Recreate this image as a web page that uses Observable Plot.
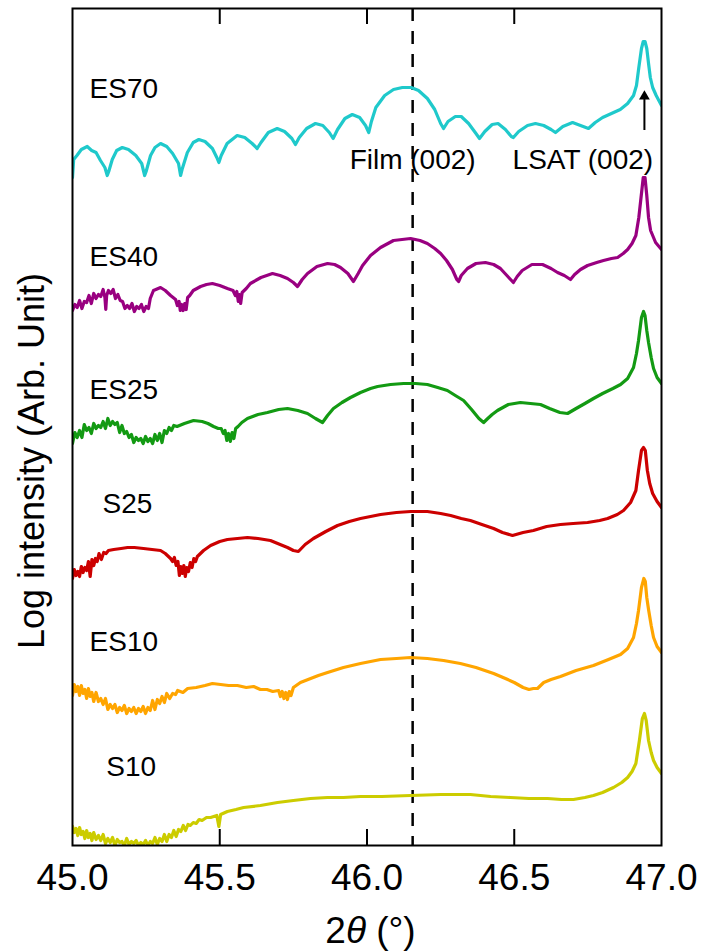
<!DOCTYPE html>
<html>
<head>
<meta charset="utf-8">
<script src="https://cdn.jsdelivr.net/npm/d3@7"></script>
<script src="https://cdn.jsdelivr.net/npm/@observablehq/plot@0.6"></script>
<style>
  html, body { margin: 0; padding: 0; background: #fff; }
  #chart { width: 701px; height: 952px; }
</style>
</head>
<body>
<div id="chart"></div>
<script>
// XRD 2θ scans around the (002) reflections, log intensity, curves offset vertically.
const xTicks = [45.0, 45.5, 46.0, 46.5, 47.0];
const sampleNames  = ["ES70", "ES40", "ES25", "S25", "ES10", "S10"];
const sampleColors = ["#1fc9cb", "#990080", "#139a13", "#cc0000", "#ffa500", "#cccc00"];

// label anchor per sample (2θ, log intensity at text baseline)
const labelX = [45.058, 45.058, 45.058, 45.102, 45.058, 45.115];
const labelY = [7.48, 5.80, 4.47, 3.33, 1.95, 0.70];

const filmPeak = 46.155;      // Film (002)
const substratePeak = 46.942; // LSAT (002)

// [2θ (°), log intensity (arb., offset)]
const es70 = [[45.000,6.68],[45.004,6.86],[45.015,6.90],[45.030,6.96],[45.050,6.99],[45.065,6.95],[45.080,6.93],[45.095,6.85],[45.110,6.78],[45.118,6.70],[45.123,6.74],[45.135,6.86],[45.150,6.95],[45.169,6.98],[45.190,6.96],[45.215,6.90],[45.235,6.82],[45.245,6.70],[45.250,6.74],[45.265,6.90],[45.280,6.98],[45.299,7.02],[45.320,6.99],[45.340,6.92],[45.360,6.82],[45.367,6.70],[45.372,6.76],[45.390,6.93],[45.410,7.03],[45.429,7.06],[45.450,7.04],[45.475,6.97],[45.490,6.88],[45.497,6.83],[45.505,6.90],[45.525,7.02],[45.559,7.10],[45.585,7.08],[45.610,7.02],[45.627,6.97],[45.640,7.03],[45.665,7.13],[45.695,7.17],[45.720,7.14],[45.745,7.07],[45.757,7.01],[45.770,7.08],[45.795,7.17],[45.825,7.22],[45.850,7.20],[45.872,7.13],[45.885,7.07],[45.900,7.16],[45.925,7.27],[45.950,7.31],[45.975,7.28],[45.995,7.20],[46.006,7.13],[46.015,7.24],[46.030,7.38],[46.060,7.50],[46.090,7.56],[46.120,7.58],[46.150,7.58],[46.175,7.55],[46.205,7.47],[46.230,7.36],[46.250,7.22],[46.260,7.17],[46.275,7.24],[46.300,7.29],[46.320,7.29],[46.345,7.22],[46.370,7.12],[46.382,7.07],[46.400,7.14],[46.425,7.21],[46.445,7.22],[46.470,7.16],[46.490,7.09],[46.497,7.08],[46.515,7.14],[46.545,7.20],[46.572,7.22],[46.600,7.20],[46.625,7.16],[46.640,7.13],[46.665,7.19],[46.698,7.23],[46.725,7.20],[46.752,7.17],[46.775,7.23],[46.800,7.28],[46.830,7.32],[46.860,7.36],[46.885,7.42],[46.905,7.50],[46.915,7.60],[46.923,7.78],[46.932,7.97],[46.938,8.04],[46.944,8.04],[46.950,7.97],[46.956,7.82],[46.962,7.68],[46.970,7.58],[46.982,7.50],[47.000,7.40]];

const es40 = [[45.000,5.35],[45.008,5.41],[45.016,5.38],[45.024,5.45],[45.032,5.37],[45.040,5.44],[45.048,5.43],[45.056,5.50],[45.064,5.42],[45.072,5.52],[45.080,5.47],[45.088,5.51],[45.096,5.49],[45.104,5.56],[45.110,5.48],[45.113,5.36],[45.116,5.50],[45.122,5.55],[45.130,5.52],[45.138,5.56],[45.146,5.47],[45.154,5.51],[45.162,5.45],[45.170,5.44],[45.178,5.37],[45.186,5.40],[45.194,5.37],[45.202,5.42],[45.210,5.34],[45.218,5.39],[45.226,5.37],[45.234,5.41],[45.242,5.34],[45.250,5.39],[45.258,5.37],[45.264,5.47],[45.275,5.55],[45.299,5.58],[45.315,5.55],[45.333,5.50],[45.350,5.46],[45.356,5.40],[45.362,5.44],[45.366,5.35],[45.371,5.41],[45.376,5.35],[45.381,5.42],[45.386,5.36],[45.391,5.48],[45.398,5.50],[45.410,5.55],[45.435,5.59],[45.455,5.61],[45.475,5.62],[45.500,5.60],[45.526,5.57],[45.545,5.55],[45.553,5.50],[45.558,5.54],[45.563,5.44],[45.567,5.51],[45.571,5.42],[45.576,5.53],[45.590,5.57],[45.604,5.62],[45.640,5.68],[45.679,5.72],[45.705,5.70],[45.730,5.67],[45.750,5.63],[45.764,5.59],[45.780,5.66],[45.798,5.72],[45.830,5.79],[45.866,5.82],[45.890,5.81],[45.910,5.78],[45.935,5.72],[45.954,5.64],[45.970,5.72],[45.985,5.80],[46.012,5.90],[46.046,5.98],[46.090,6.05],[46.148,6.07],[46.180,6.05],[46.205,6.02],[46.230,5.97],[46.250,5.92],[46.270,5.85],[46.290,5.76],[46.305,5.66],[46.311,5.64],[46.320,5.70],[46.341,5.77],[46.370,5.82],[46.402,5.83],[46.430,5.81],[46.453,5.77],[46.475,5.70],[46.497,5.63],[46.510,5.69],[46.527,5.75],[46.560,5.81],[46.596,5.81],[46.625,5.77],[46.647,5.73],[46.670,5.70],[46.691,5.66],[46.705,5.71],[46.725,5.76],[46.749,5.80],[46.780,5.83],[46.803,5.85],[46.830,5.87],[46.851,5.88],[46.870,5.92],[46.885,5.96],[46.900,6.02],[46.913,6.10],[46.923,6.28],[46.932,6.52],[46.938,6.68],[46.944,6.68],[46.950,6.50],[46.956,6.28],[46.963,6.15],[46.980,6.03],[47.000,5.96]];

const es25 = [[45.000,4.02],[45.008,4.13],[45.016,4.08],[45.024,4.15],[45.032,4.08],[45.040,4.21],[45.048,4.15],[45.056,4.18],[45.064,4.12],[45.072,4.22],[45.080,4.17],[45.088,4.20],[45.096,4.18],[45.104,4.24],[45.112,4.17],[45.120,4.27],[45.128,4.20],[45.136,4.24],[45.144,4.21],[45.152,4.23],[45.160,4.13],[45.168,4.20],[45.176,4.12],[45.184,4.14],[45.192,4.08],[45.200,4.11],[45.208,4.03],[45.216,4.08],[45.224,4.05],[45.232,4.07],[45.240,4.02],[45.248,4.09],[45.256,4.04],[45.264,4.07],[45.272,4.02],[45.280,4.11],[45.288,4.05],[45.296,4.12],[45.304,4.03],[45.312,4.15],[45.320,4.12],[45.328,4.18],[45.336,4.15],[45.344,4.20],[45.355,4.19],[45.380,4.22],[45.411,4.25],[45.440,4.24],[45.460,4.22],[45.479,4.19],[45.495,4.17],[45.505,4.17],[45.512,4.12],[45.518,4.15],[45.524,4.05],[45.530,4.12],[45.536,4.04],[45.542,4.13],[45.548,4.07],[45.554,4.17],[45.562,4.19],[45.575,4.23],[45.594,4.27],[45.630,4.31],[45.662,4.33],[45.700,4.36],[45.730,4.37],[45.765,4.35],[45.798,4.32],[45.825,4.27],[45.849,4.23],[45.866,4.30],[45.886,4.37],[45.915,4.43],[45.944,4.48],[45.978,4.53],[46.012,4.57],[46.036,4.59],[46.080,4.61],[46.124,4.62],[46.165,4.62],[46.205,4.61],[46.240,4.58],[46.273,4.55],[46.300,4.50],[46.328,4.45],[46.355,4.36],[46.380,4.27],[46.396,4.23],[46.410,4.27],[46.425,4.31],[46.443,4.35],[46.480,4.41],[46.521,4.43],[46.555,4.42],[46.589,4.41],[46.620,4.37],[46.655,4.33],[46.681,4.32],[46.710,4.37],[46.740,4.42],[46.769,4.47],[46.800,4.52],[46.835,4.57],[46.861,4.61],[46.885,4.67],[46.905,4.78],[46.915,4.92],[46.922,5.05],[46.932,5.28],[46.939,5.34],[46.944,5.30],[46.950,5.15],[46.956,5.03],[46.965,4.88],[46.973,4.77],[46.985,4.68],[47.000,4.62]];

const s25 = [[45.000,2.67],[45.006,2.76],[45.012,2.70],[45.018,2.74],[45.024,2.69],[45.030,2.79],[45.036,2.73],[45.042,2.78],[45.048,2.75],[45.054,2.84],[45.060,2.69],[45.066,2.86],[45.072,2.80],[45.078,2.87],[45.084,2.84],[45.090,2.92],[45.098,2.86],[45.106,2.93],[45.114,2.92],[45.122,2.95],[45.140,2.96],[45.165,2.97],[45.187,2.98],[45.210,2.98],[45.241,2.97],[45.270,2.96],[45.299,2.95],[45.315,2.92],[45.333,2.87],[45.340,2.84],[45.346,2.88],[45.352,2.80],[45.358,2.84],[45.363,2.70],[45.368,2.79],[45.373,2.72],[45.378,2.80],[45.383,2.69],[45.388,2.78],[45.394,2.74],[45.400,2.83],[45.406,2.78],[45.412,2.87],[45.418,2.84],[45.424,2.89],[45.445,2.95],[45.469,3.00],[45.500,3.04],[45.526,3.06],[45.560,3.07],[45.594,3.08],[45.630,3.07],[45.672,3.05],[45.705,3.01],[45.730,2.98],[45.750,2.95],[45.767,2.94],[45.790,3.01],[45.818,3.07],[45.860,3.14],[45.900,3.20],[45.940,3.24],[45.978,3.27],[46.046,3.31],[46.100,3.33],[46.148,3.34],[46.205,3.34],[46.250,3.32],[46.284,3.30],[46.320,3.27],[46.351,3.25],[46.390,3.21],[46.430,3.17],[46.460,3.13],[46.494,3.10],[46.530,3.13],[46.565,3.15],[46.610,3.19],[46.657,3.21],[46.700,3.22],[46.749,3.23],[46.790,3.25],[46.817,3.27],[46.850,3.31],[46.871,3.35],[46.895,3.43],[46.913,3.55],[46.922,3.75],[46.932,3.95],[46.939,3.98],[46.945,3.95],[46.952,3.75],[46.960,3.62],[46.970,3.52],[46.985,3.44],[47.000,3.38]];

const es10 = [[45.000,1.50],[45.006,1.61],[45.012,1.54],[45.018,1.59],[45.024,1.50],[45.030,1.60],[45.036,1.52],[45.042,1.56],[45.048,1.47],[45.054,1.57],[45.060,1.49],[45.066,1.53],[45.072,1.44],[45.080,1.53],[45.088,1.44],[45.096,1.47],[45.104,1.41],[45.112,1.47],[45.120,1.36],[45.128,1.41],[45.136,1.37],[45.144,1.41],[45.152,1.33],[45.160,1.38],[45.168,1.35],[45.176,1.40],[45.184,1.32],[45.192,1.37],[45.200,1.34],[45.208,1.38],[45.216,1.32],[45.224,1.37],[45.232,1.34],[45.240,1.39],[45.248,1.32],[45.256,1.38],[45.264,1.35],[45.272,1.45],[45.280,1.36],[45.288,1.46],[45.296,1.42],[45.304,1.49],[45.312,1.43],[45.320,1.52],[45.330,1.47],[45.340,1.52],[45.350,1.51],[45.357,1.55],[45.375,1.53],[45.391,1.57],[45.420,1.58],[45.450,1.60],[45.475,1.62],[45.503,1.61],[45.530,1.60],[45.560,1.60],[45.590,1.58],[45.615,1.59],[45.638,1.56],[45.660,1.56],[45.680,1.54],[45.700,1.55],[45.706,1.49],[45.712,1.54],[45.718,1.47],[45.724,1.53],[45.730,1.46],[45.736,1.54],[45.742,1.50],[45.750,1.58],[45.774,1.63],[45.800,1.66],[45.835,1.70],[45.866,1.73],[45.920,1.78],[45.978,1.82],[46.046,1.86],[46.100,1.87],[46.148,1.88],[46.205,1.87],[46.260,1.85],[46.317,1.82],[46.370,1.78],[46.430,1.72],[46.470,1.67],[46.500,1.63],[46.530,1.58],[46.550,1.56],[46.565,1.57],[46.579,1.57],[46.600,1.63],[46.625,1.66],[46.657,1.69],[46.710,1.75],[46.769,1.80],[46.820,1.86],[46.861,1.91],[46.885,1.97],[46.905,2.08],[46.915,2.22],[46.922,2.35],[46.932,2.58],[46.940,2.67],[46.945,2.64],[46.950,2.48],[46.956,2.36],[46.965,2.20],[46.973,2.08],[46.985,1.99],[47.000,1.93]];

const s10 = [[45.000,0.19],[45.006,0.13],[45.012,0.17],[45.018,0.10],[45.024,0.18],[45.030,0.11],[45.036,0.14],[45.042,0.07],[45.048,0.15],[45.054,0.08],[45.060,0.12],[45.066,0.05],[45.072,0.13],[45.080,0.06],[45.088,0.10],[45.096,0.05],[45.104,0.11],[45.112,0.02],[45.120,0.07],[45.128,0.03],[45.136,0.08],[45.144,0.00],[45.152,0.06],[45.160,0.03],[45.168,0.04],[45.176,0.00],[45.184,0.07],[45.192,0.01],[45.200,0.04],[45.208,0.02],[45.216,0.05],[45.224,0.00],[45.232,0.03],[45.240,0.01],[45.248,0.05],[45.256,0.00],[45.264,0.04],[45.272,0.02],[45.280,0.08],[45.288,0.01],[45.296,0.07],[45.304,0.04],[45.312,0.11],[45.320,0.04],[45.328,0.11],[45.336,0.08],[45.344,0.15],[45.352,0.09],[45.360,0.16],[45.368,0.14],[45.376,0.20],[45.384,0.15],[45.392,0.21],[45.400,0.20],[45.410,0.23],[45.420,0.22],[45.430,0.26],[45.440,0.25],[45.455,0.28],[45.469,0.28],[45.490,0.30],[45.497,0.19],[45.503,0.31],[45.526,0.34],[45.555,0.36],[45.581,0.38],[45.638,0.40],[45.696,0.43],[45.750,0.45],[45.808,0.47],[45.866,0.48],[45.920,0.48],[45.978,0.49],[46.050,0.49],[46.148,0.50],[46.250,0.51],[46.351,0.51],[46.420,0.49],[46.487,0.48],[46.550,0.47],[46.613,0.47],[46.660,0.46],[46.701,0.46],[46.740,0.48],[46.769,0.50],[46.800,0.53],[46.837,0.58],[46.865,0.63],[46.885,0.68],[46.900,0.74],[46.913,0.82],[46.925,1.05],[46.935,1.27],[46.942,1.32],[46.948,1.25],[46.956,1.05],[46.965,0.93],[46.973,0.85],[46.985,0.78],[47.000,0.72]];

const seriesValues = [es70, es40, es25, s25, es10, s10];

// long table for the line mark
const rows = seriesValues.flatMap((pts, i) =>
  pts.map(([x, y]) => ({sample: sampleNames[i], x, y})));
const labels = sampleNames.map((name, i) => ({name, x: labelX[i], y: labelY[i]}));

const yDomain = [0, 8.37];
const tickLen = 0.16;           // inward tick length, in intensity units
const font = "'Liberation Sans', Arial, Helvetica, sans-serif";

const chart = Plot.plot({
  width: 701,
  height: 952,
  marginLeft: 72,
  marginRight: 40,
  marginTop: 8,
  marginBottom: 107,
  style: {fontFamily: font, background: "#fff", color: "#000"},
  x: {domain: [45, 47]},
  y: {domain: yDomain, axis: null},
  color: {domain: sampleNames, range: sampleColors},
  marks: [
    // film peak guide
    Plot.ruleX([filmPeak], {stroke: "#000", strokeWidth: 2.5, strokeDasharray: "13,10"}),
    // scans
    Plot.line(rows, {x: "x", y: "y", z: "sample", stroke: "sample", strokeWidth: 3.2, strokeLinejoin: "round", clip: true}),
    // inward ticks, bottom and top
    Plot.ruleX(xTicks.slice(1, -1), {y1: yDomain[0], y2: yDomain[0] + tickLen, stroke: "#000", strokeWidth: 2}),
    Plot.ruleX(xTicks.slice(1, -1), {y1: yDomain[1] - tickLen, y2: yDomain[1], stroke: "#000", strokeWidth: 2}),
    Plot.frame({stroke: "#000", strokeWidth: 2}),
    Plot.axisX({ticks: xTicks, tickSize: 0, tickPadding: 18, fontSize: 37, tickFormat: d => d.toFixed(1), label: null}),
    // sample names
    Plot.text(labels, {x: "x", y: "y", text: "name", textAnchor: "start", lineAnchor: "bottom", fontSize: 28, fill: "#000"}),
    // peak annotations
    Plot.text(["Film (002)"], {x: filmPeak, y: 6.77, lineAnchor: "bottom", fontSize: 28, fill: "#000"}),
    Plot.text(["LSAT (002)"], {x: 46.733, y: 6.77, lineAnchor: "bottom", fontSize: 28, fill: "#000"}),
    Plot.ruleX([substratePeak], {y1: 7.15, y2: 7.46, stroke: "#000", strokeWidth: 2}),
    Plot.dot([substratePeak], {x: d => d, y: 7.49, symbol: "triangle", r: 4, fill: "#000", stroke: null}),
    // axis titles
    Plot.text(["2θ (°)"], {frameAnchor: "bottom", textAnchor: "middle", lineAnchor: "bottom", dx: 3.5, dy: 97, fontSize: 37, fill: "#000"}),
    Plot.text(["Log intensity (Arb. Unit)"], {frameAnchor: "left", textAnchor: "middle", rotate: -90, lineAnchor: "bottom", dx: -29, dy: 34, fontSize: 36, fill: "#000"})
  ]
});

// italic theta in the x-axis title
d3.select(chart).selectAll("text").filter(function () { return this.textContent === "2θ (°)"; })
  .each(function () {
    const t = d3.select(this);
    t.text(null);
    t.append("tspan").text("2");
    t.append("tspan").attr("font-style", "italic").text("θ");
    t.append("tspan").text(" (°)");
  });

document.getElementById("chart").appendChild(chart);
</script>
</body>
</html>
